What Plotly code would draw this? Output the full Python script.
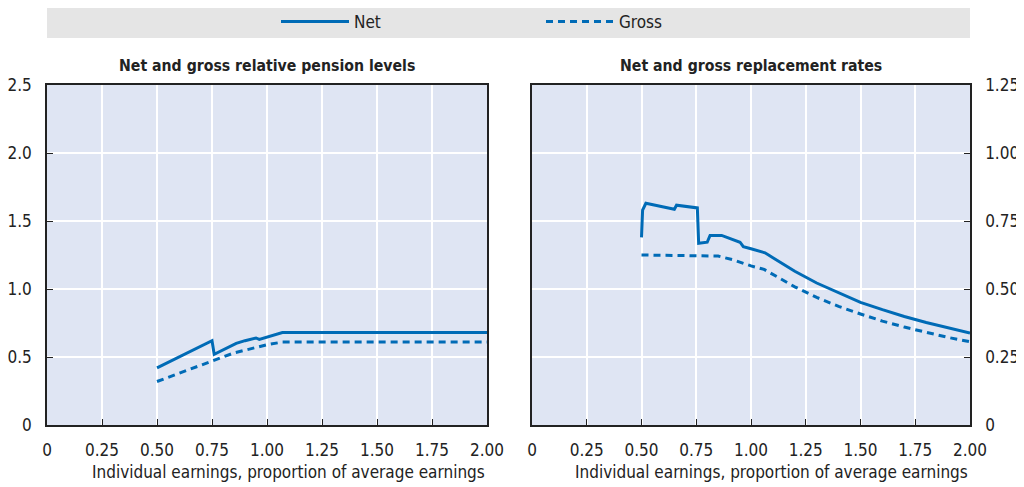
import plotly.graph_objects as go

# ---- data ----
x_net_level = [0.5, 0.75, 0.76, 0.86, 0.90, 0.95, 0.965, 1.07, 1.25, 1.5, 1.75, 2.0]
net_level   = [0.42, 0.62, 0.52, 0.60, 0.62, 0.64, 0.63, 0.68, 0.68, 0.68, 0.68, 0.68]

x_gross_level = [0.5, 0.6, 0.75, 0.85, 0.95, 1.0, 1.07, 1.25, 1.5, 1.75, 2.0]
gross_level   = [0.32, 0.38, 0.465, 0.53, 0.57, 0.59, 0.61, 0.61, 0.61, 0.61, 0.61]

x_net_rate = [0.5, 0.505, 0.52, 0.65, 0.66, 0.755, 0.761, 0.80, 0.813, 0.866, 0.95, 0.965,
              1.0, 1.064, 1.1, 1.2, 1.3, 1.4, 1.5, 1.6, 1.7, 1.8, 1.9, 2.0]
net_rate   = [0.69, 0.79, 0.815, 0.793, 0.808, 0.798, 0.668, 0.672, 0.697, 0.697, 0.672, 0.656,
              0.648, 0.633, 0.615, 0.565, 0.522, 0.485, 0.451, 0.424, 0.399, 0.377, 0.357, 0.338]

x_gross_rate = [0.5, 0.85, 0.92, 1.0, 1.06, 1.1, 1.2, 1.3, 1.4, 1.5, 1.6, 1.7, 1.8, 1.9, 2.0]
gross_rate   = [0.625, 0.621, 0.607, 0.585, 0.572, 0.553, 0.508, 0.469, 0.436, 0.408, 0.382,
                0.360, 0.340, 0.322, 0.306]

series_names = ["Net", "Gross"]
panel_titles = ["Net and gross relative pension levels", "Net and gross replacement rates"]
x_title = "Individual earnings, proportion of average earnings"

x_ticks = [0, 0.25, 0.5, 0.75, 1.0, 1.25, 1.5, 1.75, 2.0]
x_ticktext = ["0", "0.25", "0.50", "0.75", "1.00", "1.25", "1.50", "1.75", "2.00"]
y1_ticks = [0, 0.5, 1.0, 1.5, 2.0, 2.5]
y1_ticktext = ["0", "0.5", "1.0", "1.5", "2.0", "2.5"]
y2_ticks = [0, 0.25, 0.5, 0.75, 1.0, 1.25]
y2_ticktext = ["0", "0.25", "0.50", "0.75", "1.00", "1.25"]

# ---- style ----
BLUE = "#006BB6"
FONT = "Liberation Sans Narrow, Arial Narrow, DejaVu Sans Condensed, sans-serif"
PLOT_BG = "#DFE5F3"
AXIS = "#222222"
TXT = "#222222"

# the page body has an 8px margin, so the figure is laid out 8px in from the window corner
OFF = 8
W, H = 1024 - OFF, 487 - OFF
L = 47 - OFF
T = 85 - OFF
R = W - (970 - OFF)
B = H - (425 - OFF)
pw = W - L - R
ph = H - T - B
d1 = [0, (487 - 47) / pw]
d2 = [(532 - 47) / pw, 1]


def py(y_win):
    """window y pixel -> paper y"""
    return 1 - (y_win - 85) / ph


fig = go.Figure()
fig.add_trace(go.Scatter(x=x_net_level, y=net_level, mode="lines", name=series_names[0],
                         line=dict(color=BLUE, width=3), xaxis="x", yaxis="y"))
fig.add_trace(go.Scatter(x=x_gross_level, y=gross_level, mode="lines", name=series_names[1],
                         line=dict(color=BLUE, width=3, dash="7px,5px"), xaxis="x", yaxis="y"))
fig.add_trace(go.Scatter(x=x_net_rate, y=net_rate, mode="lines", name=series_names[0],
                         line=dict(color=BLUE, width=3), xaxis="x2", yaxis="y2", showlegend=False))
fig.add_trace(go.Scatter(x=x_gross_rate, y=gross_rate, mode="lines", name=series_names[1],
                         line=dict(color=BLUE, width=3, dash="7px,5px"), xaxis="x2", yaxis="y2",
                         showlegend=False))

common_x = dict(range=[0, 2], tickvals=x_ticks, ticktext=x_ticktext, showgrid=True,
                gridcolor="white", gridwidth=2, showline=True, mirror=True, linecolor=AXIS,
                linewidth=1.5, ticks="inside", ticklen=6, tickcolor=AXIS, tickwidth=1,
                zeroline=False, ticklabelstandoff=9, automargin=False,
                tickfont=dict(family=FONT, size=17, color=TXT))
common_y = dict(showgrid=True, gridcolor="white", gridwidth=2, showline=True, mirror=True,
                linecolor=AXIS, linewidth=1.5, ticks="inside", ticklen=6, tickcolor=AXIS,
                tickwidth=1, zeroline=False, ticklabelstandoff=10, automargin=False,
                tickfont=dict(family=FONT, size=17, color=TXT))

fig.update_layout(
    width=W, height=H,
    margin=dict(l=L, r=R, t=T, b=B, autoexpand=False),
    paper_bgcolor="white",
    plot_bgcolor=PLOT_BG,
    font=dict(family=FONT, size=17, color=TXT),
    xaxis=dict(domain=d1, anchor="y", **common_x),
    yaxis=dict(domain=[0, 1], anchor="x", range=[0, 2.5], tickvals=y1_ticks,
               ticktext=y1_ticktext, **common_y),
    xaxis2=dict(domain=d2, anchor="y2", **common_x),
    yaxis2=dict(domain=[0, 1], anchor="x2", side="right", range=[0, 1.25], tickvals=y2_ticks,
                ticktext=y2_ticktext, **common_y),
    showlegend=True,
    legend=dict(orientation="h", x=(288 - 47 - 12) / pw, xanchor="left",
                y=py(22), yanchor="middle",
                bgcolor="rgba(0,0,0,0)", entrywidth=182, itemwidth=68,
                font=dict(family=FONT, size=17, color=TXT)),
    shapes=[dict(type="rect", xref="paper", yref="paper", x0=0, x1=1,
                 y0=py(38), y1=py(7),
                 fillcolor="#E5E5E5", line=dict(width=0), layer="below")],
)

ann = []
for dom, title in zip([d1, d2], panel_titles):
    ann.append(dict(text="<b>" + title + "</b>", x=(dom[0] + dom[1]) / 2, xref="paper",
                    y=py(65), yref="paper", showarrow=False, xanchor="center",
                    yanchor="middle", font=dict(family=FONT, size=15.7, color=TXT)))
    ann.append(dict(text=x_title, x=dom[1], xref="paper", y=py(472), yref="paper",
                    showarrow=False, xanchor="right", yanchor="middle",
                    font=dict(family=FONT, size=17, color=TXT)))
fig.update_layout(annotations=ann)

fig.write_html("out.html")
